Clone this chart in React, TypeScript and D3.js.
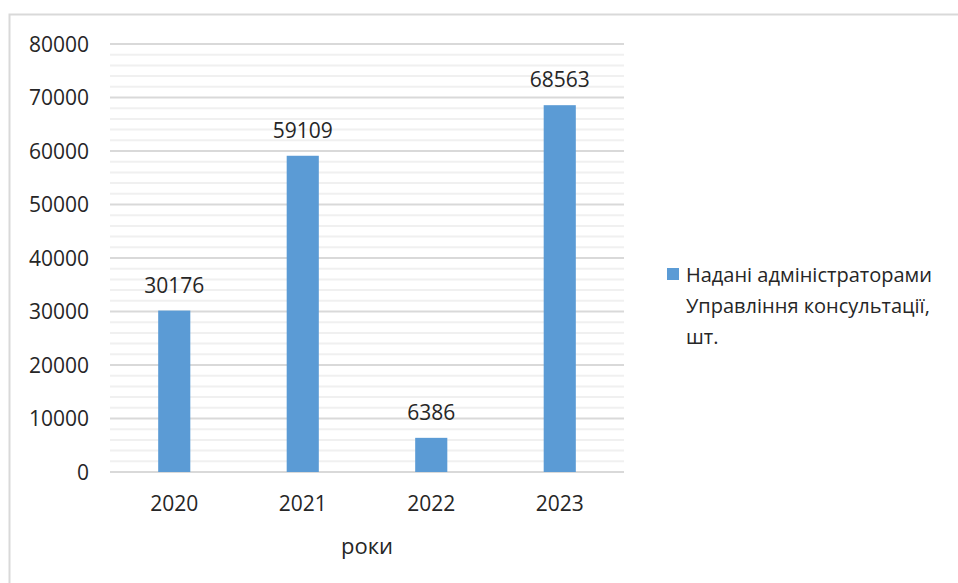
import React from "react";
import * as d3 from "d3";

const categories = ["2020", "2021", "2022", "2023"];
const values = [30176, 59109, 6386, 68563];
const yTicks = [0, 10000, 20000, 30000, 40000, 50000, 60000, 70000, 80000];
const legendLines = ["Надані адміністраторами", "Управління консультації,", "шт."];
const axisTitle = "роки";

const W = 958;
const H = 583;
const FONT = "'Open Sans', sans-serif";

export default function App() {
  const x = d3.scaleBand<string>().domain(categories).range([110, 624]).paddingInner(0.75).paddingOuter(0.375);
  const y = d3.scaleLinear().domain([0, 80000]).range([472, 44]);
  const minor = d3.range(0, 80001, 2000).filter((v) => v % 10000 !== 0);

  return (
    <svg width={W} height={H} style={{ position: "fixed", left: 0, top: 0, background: "#fff" }}>
      <rect x={0} y={0} width={W} height={H} fill="#fff" />
      <rect x={9.5} y={14.5} width={W + 10} height={H + 10} fill="none" stroke="#d9d9d9" strokeWidth={2} />
      {minor.map((v) => (
        <line key={"m" + v} x1={110} x2={624} y1={y(v)} y2={y(v)} stroke="#f0f0f0" strokeWidth={2} />
      ))}
      {yTicks.map((v) => (
        <line key={"g" + v} x1={110} x2={624} y1={y(v)} y2={y(v)} stroke="#d9d9d9" strokeWidth={2} />
      ))}
      {yTicks.map((v) => (
        <text key={"t" + v} x={89} y={y(v)} dy="0.36em" textAnchor="end" fontFamily={FONT} fontSize={21} fill="#262626">
          {v}
        </text>
      ))}
      {categories.map((c, i) => (
        <g key={c}>
          <rect x={x(c)} y={y(values[i])} width={x.bandwidth()} height={y(0) - y(values[i])} fill="#5b9bd5" />
          <text x={(x(c) as number) + x.bandwidth() / 2} y={y(values[i]) - 18} textAnchor="middle" fontFamily={FONT} fontSize={21} fill="#262626">
            {values[i]}
          </text>
          <text x={(x(c) as number) + x.bandwidth() / 2} y={511} textAnchor="middle" fontFamily={FONT} fontSize={21} fill="#262626">
            {c}
          </text>
        </g>
      ))}
      <text x={367} y={554} textAnchor="middle" fontFamily={FONT} fontSize={22} fill="#262626">
        {axisTitle}
      </text>
      <rect x={667} y={268} width={12} height={12} fill="#5b9bd5" />
      {legendLines.map((l, i) => (
        <text key={i} x={686} y={282 + i * 31} fontFamily={FONT} fontSize={20} fill="#262626">
          {l}
        </text>
      ))}
    </svg>
  );
}
